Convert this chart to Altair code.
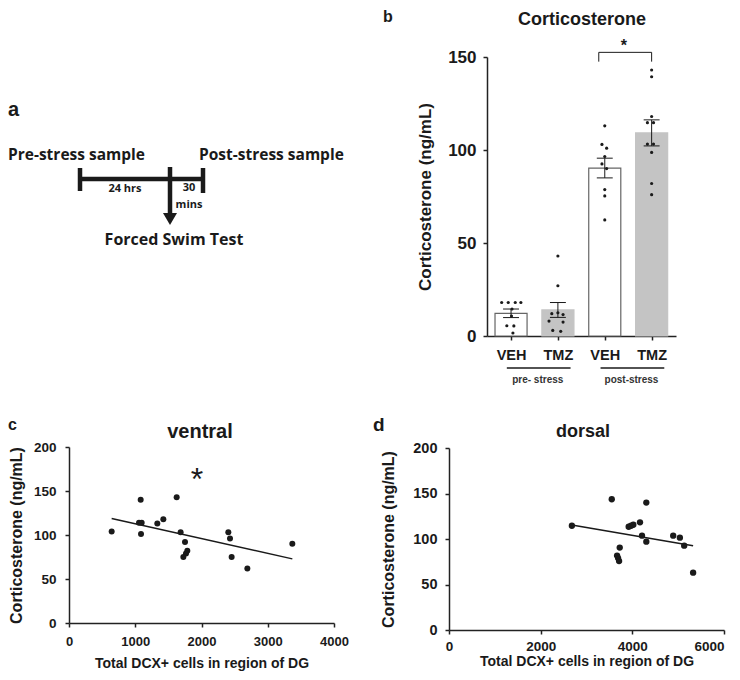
import altair as alt
import pandas as pd

FONT = "Liberation Sans"
DIAG_FONT = "Open Sans"
INK = "#1a1a1a"

# ---------------- panel a : protocol schematic (figure coordinates) ----------------
a_big_labels = ["Pre-stress sample", "Post-stress sample"]
a_big_x = [8, 199]
a_big_y = [155, 155]
a_center_labels = ["24 hrs", "30", "mins", "Forced Swim Test"]
a_center_x = [125, 189, 189, 174]
a_center_y = [189, 188, 205, 240]
a_center_size = [11, 11, 11, 16]
a_seg_x = [80, 80, 203, 170]
a_seg_x2 = [203, 80, 203, 170]
a_seg_y = [179, 168, 168, 167]
a_seg_y2 = [179, 191, 193, 213]
a_arrow_x = [170]
a_arrow_y = [219]

# ---------------- panel b : corticosterone bars ----------------
b_treat = ["VEH", "TMZ", "VEH", "TMZ"]
b_group = ["pre", "pre", "post", "post"]
b_mean = [12.2, 14.0, 90.3, 109.2]
b_sem = [2.3, 4.0, 5.3, 7.0]
b_dots = [
    [18, 18, 18, 18, 14.5, 10.7, 5.5, 5.4, 1.6],
    [43, 27, 12, 12.5, 11.5, 8, 7.5, 3, 2.5],
    [113, 103, 101, 96.5, 92.5, 90, 78.7, 75.3, 62.4],
    [143, 139.4, 118, 114.7, 114.7, 103.2, 103.2, 98.7, 82, 76],
]
b_jit = [
    [-0.2, -0.06, 0.09, 0.21, 0.02, 0.01, -0.09, 0.06, 0.04],
    [0, 0, -0.13, 0, 0.11, -0.19, 0.11, -0.11, 0.06],
    [0, -0.06, 0.04, 0, -0.06, 0.04, 0, 0, 0],
    [0, 0, 0, -0.09, 0.04, -0.09, 0.04, 0, 0, 0],
]
b_group_names = ["pre- stress", "post-stress"]
b_sig_pair = [3, 4]
b_sig_top = 152.5
b_sig_drop = 147.5

# ---------------- panels c, d : correlations ----------------
c_x = [644, 1057, 1097, 1082, 1087, 1333, 1424, 1625, 1685, 1751, 1786, 1766, 1726,
       2405, 2430, 2455, 2692, 3371]
c_y = [104, 114, 114, 140, 101, 113, 118, 143, 103, 92, 82, 79, 75, 103, 96, 75, 62, 90]
c_sig_x = [1932]
c_sig_y = [151]

d_x = [2681, 3551, 4305, 3920, 3972, 4022, 4167, 4211, 4305, 4892, 5037, 5131, 3725,
       3667, 3689, 3711, 5326]
d_y = [114.6, 143.7, 140, 113.5, 114.6, 115.7, 118.3, 103.7, 97.1, 103.7, 101.5, 92.7,
       90.6, 81.8, 79, 75.7, 63]

# ---------------- layout (page pixels) ----------------
W, H = 724, 664
OX, OY = 8, 8
B_FRAME = (487, 676, 57, 336)   # left, right, top, bottom
C_FRAME = (69, 334, 447, 623)
D_FRAME = (449, 724, 448, 630)


def txt(text, px, py, size, align="left", font=FONT, baseline="middle"):
    return alt.Chart(pd.DataFrame({"t": [text]})).mark_text(
        align=align, baseline=baseline, fontSize=size, font=font,
        fontWeight="bold", color=INK
    ).encode(text="t:N", x=alt.value(px - OX), y=alt.value(py - OY))


def frame_scales(frame, xdom, ydom):
    l, r, t, b = frame
    xs = alt.Scale(domain=xdom, range=[l - OX, r - OX], nice=False, zero=False)
    ys = alt.Scale(domain=ydom, range=[b - OY, t - OY], nice=False, zero=False)
    return xs, ys


def y_axis_offset(frame):
    return -(frame[0] - OX)


def x_axis_offset(frame):
    return (frame[3] - OY) - H


# ---- panel a ----
axs = alt.Scale(domain=[OX, OX + W], range=[0, W], nice=False, zero=False)
ays = alt.Scale(domain=[OY, OY + H], range=[0, H], nice=False, zero=False)
AX = lambda f: alt.X(f, scale=axs, axis=None)
AY = lambda f: alt.Y(f, scale=ays, axis=None)
a_segs = alt.Chart(pd.DataFrame({"x": a_seg_x, "x2": a_seg_x2, "y": a_seg_y, "y2": a_seg_y2})).mark_rule(
    color=INK, strokeWidth=4.5, strokeCap="butt"
).encode(x=AX("x:Q"), x2="x2:Q", y=AY("y:Q"), y2="y2:Q")
a_arrow = alt.Chart(pd.DataFrame({"x": a_arrow_x, "y": a_arrow_y})).mark_point(
    shape="triangle-down", size=196, filled=True, color=INK, opacity=1
).encode(x=AX("x:Q"), y=AY("y:Q"))
a_txt1 = alt.Chart(pd.DataFrame({"t": a_big_labels, "x": a_big_x, "y": a_big_y})).mark_text(
    align="left", baseline="middle", font=DIAG_FONT, fontWeight="bold", fontSize=15.5, color=INK
).encode(text="t:N", x=AX("x:Q"), y=AY("y:Q"))
a_txt2 = alt.Chart(pd.DataFrame({"t": a_center_labels, "x": a_center_x, "y": a_center_y,
                                 "fs": a_center_size})).mark_text(
    align="center", baseline="middle", font=DIAG_FONT, fontWeight="bold", color=INK
).encode(text="t:N", x=AX("x:Q"), y=AY("y:Q"), size=alt.Size("fs:Q", scale=None, legend=None))
panel_a = alt.layer(a_segs, a_arrow, a_txt1, a_txt2)

# ---- panel b ----
pos = list(range(1, len(b_treat) + 1))
dfb = pd.DataFrame({"pos": pos, "treat": b_treat, "grp": b_group, "mean": b_mean, "sem": b_sem})
rows = []
for i, (vals, jits) in enumerate(zip(b_dots, b_jit)):
    for v, j in zip(vals, jits):
        rows.append({"xp": pos[i] + j, "v": v})
dots = pd.DataFrame(rows)

bxs, bys = frame_scales(B_FRAME, [0.487, 4.52], [0, 150])
label_expr = "[" + ",".join(["''"] + [f"'{t}'" for t in b_treat]) + "][datum.value]"
bx_axis = alt.Axis(values=pos, labelExpr=label_expr, title=None, labelFontSize=14.5, labelPadding=8,
                   tickSize=4, labelFlush=False, grid=False, orient="bottom",
                   offset=x_axis_offset(B_FRAME))
by_axis = alt.Axis(values=[0, 50, 100, 150], title="Corticosterone (ng/mL)", titleFontSize=17,
                   labelFontSize=17, labelPadding=7, titlePadding=13, tickSize=4, grid=False,
                   orient="left", offset=y_axis_offset(B_FRAME))
BX = lambda f: alt.X(f, scale=bxs, axis=bx_axis)
BY = lambda f: alt.Y(f, scale=bys, axis=by_axis)

HALF = 0.342
bars = alt.Chart(dfb).transform_calculate(
    x0=f"datum.pos - {HALF}", x1=f"datum.pos + {HALF}", z="0"
).mark_bar(strokeWidth=1.2).encode(
    x=BX("x0:Q"), x2="x1:Q", y=BY("mean:Q"), y2="z:Q",
    fill=alt.Fill("treat:N", scale=alt.Scale(domain=["VEH", "TMZ"], range=["white", "#c4c4c4"]), legend=None),
    stroke=alt.Stroke("treat:N", scale=alt.Scale(domain=["VEH", "TMZ"], range=["#666666", "#c4c4c4"]), legend=None),
)
err = alt.Chart(dfb).transform_calculate(
    lo="datum.mean - datum.sem", hi="datum.mean + datum.sem"
).mark_rule(color=INK, strokeWidth=1).encode(x=BX("pos:Q"), y=BY("lo:Q"), y2="hi:Q")
caps = alt.Chart(dfb).transform_calculate(
    lo="datum.mean - datum.sem", hi="datum.mean + datum.sem",
    c0="datum.pos - 0.17", c1="datum.pos + 0.17"
).transform_fold(["lo", "hi"], as_=["k", "cy"]).mark_rule(color=INK, strokeWidth=1).encode(
    x=BX("c0:Q"), x2="c1:Q", y=BY("cy:Q"))
bdots = alt.Chart(dots).mark_circle(size=10, color=INK, opacity=1).encode(x=BX("xp:Q"), y=BY("v:Q"))

p0, p1 = b_sig_pair
br = pd.DataFrame({
    "x": [p0 - 0.128, p0 - 0.128, p1],
    "x2": [p1, p0 - 0.128, p1],
    "y": [b_sig_top, b_sig_drop, b_sig_drop],
    "y2": [b_sig_top, b_sig_top, b_sig_top],
})
bracket = alt.Chart(br).mark_rule(color=INK, strokeWidth=1).encode(
    x=BX("x:Q"), x2="x2:Q", y=BY("y:Q"), y2="y2:Q")
star_b = alt.Chart(pd.DataFrame({"x": [(p0 - 0.128 + p1) / 2 - 0.03], "y": [153], "t": ["*"]})).mark_text(
    fontSize=16, font=FONT, fontWeight="bold", baseline="alphabetic", color=INK
).encode(x=BX("x:Q"), y=BY("y:Q"), text="t:N")

grp_rows = []
for g, name in zip(["pre", "post"], b_group_names):
    ps = [p for p, gg in zip(pos, b_group) if gg == g]
    grp_rows.append({"name": name, "s": min(ps) - 0.09, "e": max(ps) + 0.27,
                     "m": (min(ps) + max(ps)) / 2 + 0.07})
dg = pd.DataFrame(grp_rows)
grp_lines = alt.Chart(dg).mark_rule(color=INK, strokeWidth=1.6).encode(
    x=BX("s:Q"), x2="e:Q", y=alt.value(368 - OY))
grp_text = alt.Chart(dg).mark_text(fontSize=10, font=FONT, fontWeight="bold", color="#333333",
                                   baseline="middle").encode(
    x=BX("m:Q"), y=alt.value(380 - OY), text="name:N")

panel_b = alt.layer(bars, err, caps, bdots, bracket, star_b, grp_lines, grp_text)


# ---- panels c, d ----
def scatter(xs_, ys_, frame, xmax, xstep, lfs_x, lfs_y, tfs_x, tfs_y,
            ylp, ytp, xlp, xtp, size, sig=None, last_right=False):
    df = pd.DataFrame({"x": xs_, "y": ys_})
    xs, ys = frame_scales(frame, [0, xmax], [0, 200])
    extra = {}
    if last_right:
        extra["labelAlign"] = {"condition": {"test": f"datum.value >= {xmax}", "value": "right"},
                               "value": "center"}
    xax = alt.Axis(values=list(range(0, xmax + 1, xstep)), format="d",
                   title="Total DCX+ cells in region of DG",
                   labelFontSize=lfs_x, titleFontSize=tfs_x, labelFlush=False, labelPadding=xlp,
                   titlePadding=xtp, tickSize=4, grid=False, labelOverlap=False,
                   orient="bottom", offset=x_axis_offset(frame), **extra)
    yax = alt.Axis(values=[0, 50, 100, 150, 200], format="d", title="Corticosterone (ng/mL)",
                   labelFontSize=lfs_y, titleFontSize=tfs_y, labelPadding=ylp, titlePadding=ytp,
                   tickSize=4, grid=False, orient="left", offset=y_axis_offset(frame))
    X = lambda f: alt.X(f, scale=xs, axis=xax)
    Y = lambda f: alt.Y(f, scale=ys, axis=yax)
    reg = alt.Chart(df).transform_regression("x", "y").mark_line(color=INK, strokeWidth=1.5).encode(
        x=X("x:Q"), y=Y("y:Q"))
    pts = alt.Chart(df).mark_circle(size=size, color=INK, opacity=1).encode(x=X("x:Q"), y=Y("y:Q"))
    layers = [reg, pts]
    if sig is not None:
        sx, sy = sig
        layers.append(alt.Chart(pd.DataFrame({"x": sx, "y": sy, "t": ["*"] * len(sx)})).mark_text(
            fontSize=32, font=FONT, baseline="alphabetic", color=INK
        ).encode(x=X("x:Q"), y=Y("y:Q"), text="t:N"))
    return alt.layer(*layers)


panel_c = scatter(c_x, c_y, C_FRAME, 4000, 1000, 13, 13.5, 14, 16, 9, 9, 8, 8, 36,
                  sig=(c_sig_x, c_sig_y))
panel_d = scatter(d_x, d_y, D_FRAME, 6000, 2000, 13.5, 14.5, 14, 16, 8, 16, 5, 2, 40,
                  last_right=True)

annotations = [
    txt("a", 8, 110, 20),
    txt("b", 383, 17, 16),
    txt("Corticosterone", 582, 20, 18, align="center"),
    txt("c", 8, 425, 16),
    txt("ventral", 200, 432, 20, align="center"),
    txt("d", 373, 425, 19),
    txt("dorsal", 583, 432, 18, align="center"),
]

chart = alt.layer(panel_a, panel_b, panel_c, panel_d, *annotations).resolve_scale(
    x="independent", y="independent"
).resolve_axis(
    x="independent", y="independent"
).properties(
    width=W, height=H, padding=0, autosize=alt.AutoSizeParams(type="none")
).configure_view(stroke=None).configure_axis(
    domainColor="#222222", tickColor="#222222", labelColor=INK, titleColor=INK,
    labelFont=FONT, titleFont=FONT, labelFontWeight="bold", titleFontWeight="bold",
    domainWidth=1.5, tickWidth=1.5,
)

chart.save("out.html", embed_options={"renderer": "svg", "actions": False})
